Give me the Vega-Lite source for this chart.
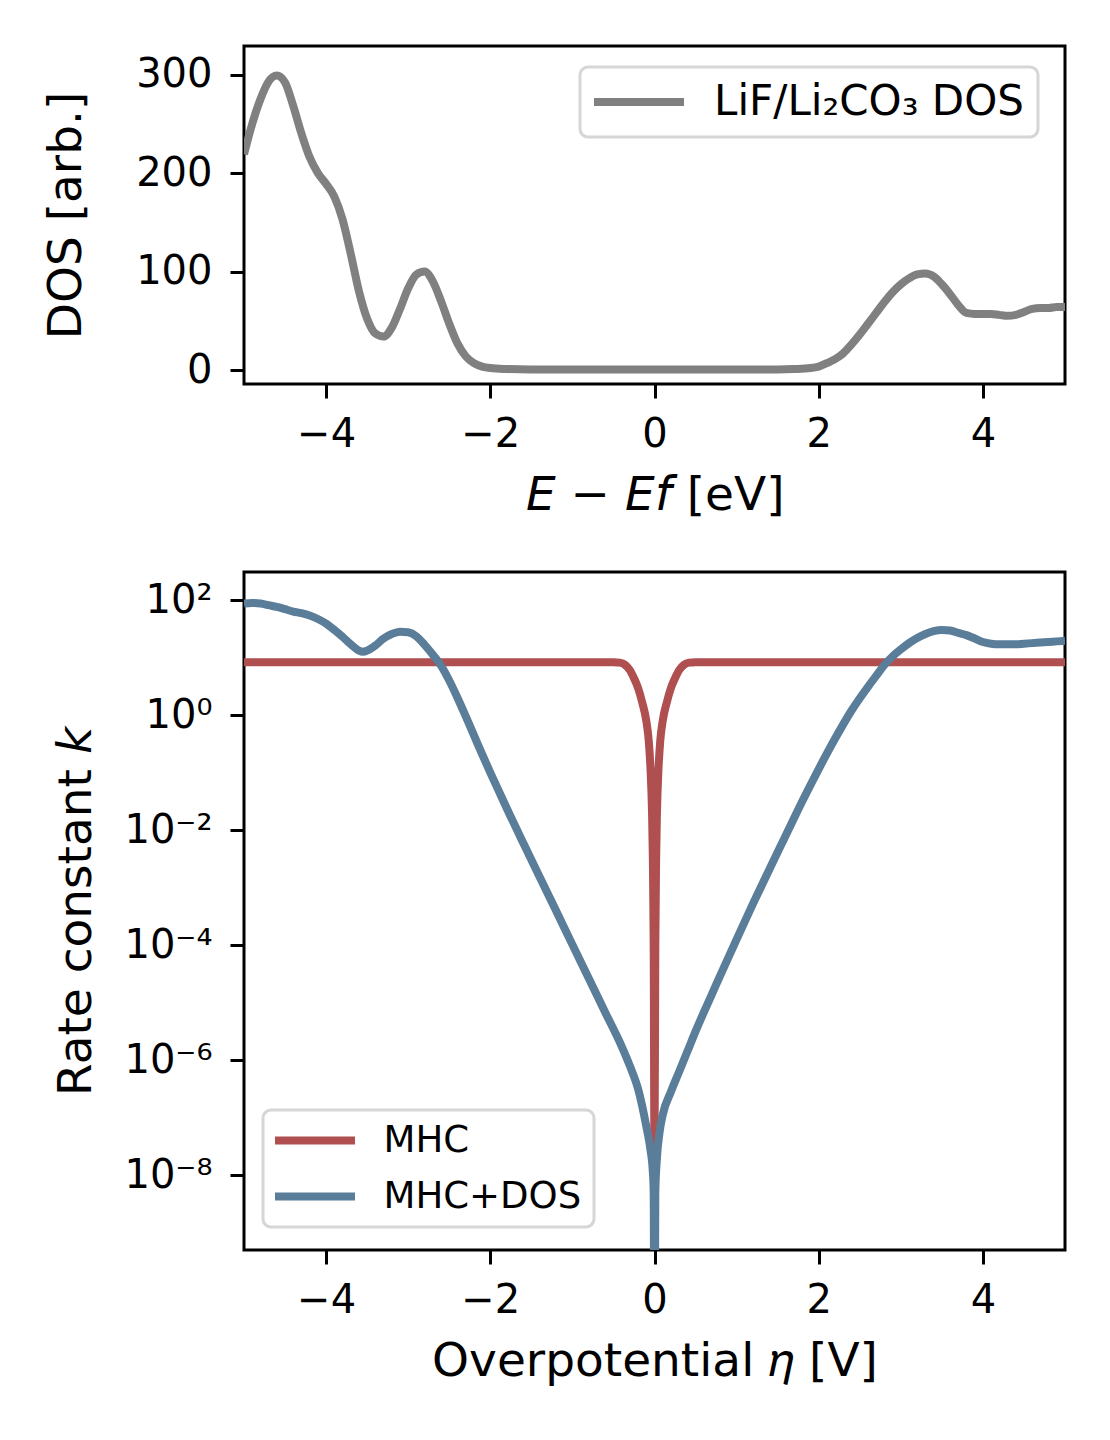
{
  "$schema": "https://vega.github.io/schema/vega-lite/v6.json",
  "background": "white",
  "padding": {"left": 40, "top": 44, "right": 30, "bottom": 10},
  "datasets": {
    "dos": [
      {"E": -5.0, "dos": 219}, {"E": -4.9, "dos": 250}, {"E": -4.8, "dos": 275}, {"E": -4.7, "dos": 293},
      {"E": -4.6, "dos": 299}, {"E": -4.5, "dos": 292}, {"E": -4.4, "dos": 268}, {"E": -4.3, "dos": 240},
      {"E": -4.2, "dos": 216}, {"E": -4.1, "dos": 200}, {"E": -4.0, "dos": 189}, {"E": -3.9, "dos": 176},
      {"E": -3.8, "dos": 153}, {"E": -3.7, "dos": 118}, {"E": -3.6, "dos": 80}, {"E": -3.5, "dos": 52},
      {"E": -3.4, "dos": 37}, {"E": -3.3, "dos": 34}, {"E": -3.2, "dos": 43}, {"E": -3.1, "dos": 62},
      {"E": -3.0, "dos": 83}, {"E": -2.9, "dos": 97}, {"E": -2.8, "dos": 100}, {"E": -2.7, "dos": 90},
      {"E": -2.6, "dos": 70}, {"E": -2.5, "dos": 47}, {"E": -2.4, "dos": 27}, {"E": -2.3, "dos": 14},
      {"E": -2.2, "dos": 7}, {"E": -2.1, "dos": 3.5}, {"E": -2.0, "dos": 2}, {"E": -1.8, "dos": 1},
      {"E": -1.5, "dos": 0.5}, {"E": -1.0, "dos": 0.5}, {"E": 0.0, "dos": 0.5}, {"E": 1.0, "dos": 0.5},
      {"E": 1.5, "dos": 0.6}, {"E": 1.7, "dos": 1}, {"E": 1.9, "dos": 2}, {"E": 2.0, "dos": 3.5},
      {"E": 2.1, "dos": 7}, {"E": 2.2, "dos": 11}, {"E": 2.3, "dos": 17}, {"E": 2.4, "dos": 26},
      {"E": 2.5, "dos": 36}, {"E": 2.6, "dos": 47}, {"E": 2.7, "dos": 58}, {"E": 2.8, "dos": 69},
      {"E": 2.9, "dos": 79}, {"E": 3.0, "dos": 87}, {"E": 3.1, "dos": 93}, {"E": 3.2, "dos": 97},
      {"E": 3.3, "dos": 98}, {"E": 3.4, "dos": 95}, {"E": 3.5, "dos": 87}, {"E": 3.6, "dos": 77},
      {"E": 3.7, "dos": 66}, {"E": 3.8, "dos": 58}, {"E": 3.9, "dos": 57}, {"E": 4.0, "dos": 57},
      {"E": 4.1, "dos": 57}, {"E": 4.2, "dos": 56}, {"E": 4.3, "dos": 55}, {"E": 4.4, "dos": 56},
      {"E": 4.5, "dos": 59}, {"E": 4.6, "dos": 62}, {"E": 4.7, "dos": 63}, {"E": 4.8, "dos": 63},
      {"E": 4.9, "dos": 64}, {"E": 5.0, "dos": 64}
    ],
    "rate": [
      {"eta": -5.0, "k": 8.32, "model": "MHC"}, {"eta": -4.0, "k": 8.32, "model": "MHC"},
      {"eta": -3.0, "k": 8.32, "model": "MHC"}, {"eta": -2.0, "k": 8.32, "model": "MHC"},
      {"eta": -1.0, "k": 8.32, "model": "MHC"}, {"eta": -0.6, "k": 8.32, "model": "MHC"},
      {"eta": -0.5, "k": 8.3, "model": "MHC"}, {"eta": -0.42, "k": 8.15, "model": "MHC"},
      {"eta": -0.36, "k": 7.5, "model": "MHC"}, {"eta": -0.3, "k": 6.03, "model": "MHC"},
      {"eta": -0.25, "k": 4.37, "model": "MHC"}, {"eta": -0.2, "k": 2.95, "model": "MHC"},
      {"eta": -0.15, "k": 1.66, "model": "MHC"}, {"eta": -0.1, "k": 0.794, "model": "MHC"},
      {"eta": -0.07, "k": 0.355, "model": "MHC"}, {"eta": -0.05, "k": 0.126, "model": "MHC"},
      {"eta": -0.03, "k": 0.02, "model": "MHC"}, {"eta": -0.02, "k": 0.00316, "model": "MHC"},
      {"eta": -0.01, "k": 0.0001, "model": "MHC"}, {"eta": 0.0, "k": 2e-8, "model": "MHC"},
      {"eta": 0.01, "k": 0.0001, "model": "MHC"}, {"eta": 0.02, "k": 0.00316, "model": "MHC"},
      {"eta": 0.03, "k": 0.02, "model": "MHC"}, {"eta": 0.05, "k": 0.126, "model": "MHC"},
      {"eta": 0.07, "k": 0.355, "model": "MHC"}, {"eta": 0.1, "k": 0.794, "model": "MHC"},
      {"eta": 0.15, "k": 1.66, "model": "MHC"}, {"eta": 0.2, "k": 2.95, "model": "MHC"},
      {"eta": 0.25, "k": 4.37, "model": "MHC"}, {"eta": 0.3, "k": 6.03, "model": "MHC"},
      {"eta": 0.36, "k": 7.5, "model": "MHC"}, {"eta": 0.42, "k": 8.15, "model": "MHC"},
      {"eta": 0.5, "k": 8.3, "model": "MHC"}, {"eta": 0.6, "k": 8.32, "model": "MHC"},
      {"eta": 1.0, "k": 8.32, "model": "MHC"}, {"eta": 2.0, "k": 8.32, "model": "MHC"},
      {"eta": 3.0, "k": 8.32, "model": "MHC"}, {"eta": 4.0, "k": 8.32, "model": "MHC"},
      {"eta": 5.0, "k": 8.32, "model": "MHC"},
      {"eta": -5.0, "k": 87.1, "model": "MHC+DOS"}, {"eta": -4.9, "k": 89.1, "model": "MHC+DOS"},
      {"eta": -4.8, "k": 87.1, "model": "MHC+DOS"}, {"eta": -4.7, "k": 81.3, "model": "MHC+DOS"},
      {"eta": -4.6, "k": 75.9, "model": "MHC+DOS"}, {"eta": -4.5, "k": 69.2, "model": "MHC+DOS"},
      {"eta": -4.4, "k": 63.1, "model": "MHC+DOS"}, {"eta": -4.3, "k": 58.9, "model": "MHC+DOS"},
      {"eta": -4.2, "k": 53.7, "model": "MHC+DOS"}, {"eta": -4.1, "k": 46.8, "model": "MHC+DOS"},
      {"eta": -4.0, "k": 38.9, "model": "MHC+DOS"}, {"eta": -3.9, "k": 30.2, "model": "MHC+DOS"},
      {"eta": -3.8, "k": 22.9, "model": "MHC+DOS"}, {"eta": -3.7, "k": 17.0, "model": "MHC+DOS"},
      {"eta": -3.6, "k": 13.2, "model": "MHC+DOS"}, {"eta": -3.55, "k": 12.6, "model": "MHC+DOS"},
      {"eta": -3.5, "k": 13.2, "model": "MHC+DOS"}, {"eta": -3.4, "k": 16.2, "model": "MHC+DOS"},
      {"eta": -3.3, "k": 21.4, "model": "MHC+DOS"}, {"eta": -3.2, "k": 25.7, "model": "MHC+DOS"},
      {"eta": -3.1, "k": 28.2, "model": "MHC+DOS"}, {"eta": -3.0, "k": 27.5, "model": "MHC+DOS"},
      {"eta": -2.9, "k": 23.4, "model": "MHC+DOS"}, {"eta": -2.8, "k": 16.6, "model": "MHC+DOS"},
      {"eta": -2.7, "k": 11.2, "model": "MHC+DOS"}, {"eta": -2.6, "k": 7.24, "model": "MHC+DOS"},
      {"eta": -2.5, "k": 3.98, "model": "MHC+DOS"}, {"eta": -2.4, "k": 2.0, "model": "MHC+DOS"},
      {"eta": -2.3, "k": 0.955, "model": "MHC+DOS"}, {"eta": -2.2, "k": 0.447, "model": "MHC+DOS"},
      {"eta": -2.1, "k": 0.209, "model": "MHC+DOS"}, {"eta": -2.0, "k": 0.1, "model": "MHC+DOS"},
      {"eta": -1.9, "k": 0.049, "model": "MHC+DOS"}, {"eta": -1.8, "k": 0.024, "model": "MHC+DOS"},
      {"eta": -1.6, "k": 0.00603, "model": "MHC+DOS"}, {"eta": -1.4, "k": 0.00155, "model": "MHC+DOS"},
      {"eta": -1.2, "k": 0.000398, "model": "MHC+DOS"}, {"eta": -1.0, "k": 0.000102, "model": "MHC+DOS"},
      {"eta": -0.8, "k": 0.0000263, "model": "MHC+DOS"}, {"eta": -0.6, "k": 0.00000676, "model": "MHC+DOS"},
      {"eta": -0.4, "k": 0.00000174, "model": "MHC+DOS"}, {"eta": -0.3, "k": 7.94e-7, "model": "MHC+DOS"},
      {"eta": -0.2, "k": 3.16e-7, "model": "MHC+DOS"}, {"eta": -0.1, "k": 7.08e-8, "model": "MHC+DOS"},
      {"eta": -0.05, "k": 2.82e-8, "model": "MHC+DOS"}, {"eta": -0.02, "k": 1.12e-8, "model": "MHC+DOS"},
      {"eta": -0.01, "k": 5.01e-9, "model": "MHC+DOS"}, {"eta": 0.0, "k": 1e-12, "model": "MHC+DOS"},
      {"eta": 0.01, "k": 5.01e-9, "model": "MHC+DOS"}, {"eta": 0.03, "k": 2.0e-8, "model": "MHC+DOS"},
      {"eta": 0.06, "k": 5.37e-8, "model": "MHC+DOS"}, {"eta": 0.1, "k": 1.12e-7, "model": "MHC+DOS"},
      {"eta": 0.2, "k": 2.82e-7, "model": "MHC+DOS"}, {"eta": 0.3, "k": 6.31e-7, "model": "MHC+DOS"},
      {"eta": 0.4, "k": 0.00000141, "model": "MHC+DOS"}, {"eta": 0.5, "k": 0.00000316, "model": "MHC+DOS"},
      {"eta": 0.6, "k": 0.00000676, "model": "MHC+DOS"}, {"eta": 0.7, "k": 0.0000141, "model": "MHC+DOS"},
      {"eta": 0.8, "k": 0.0000295, "model": "MHC+DOS"}, {"eta": 1.0, "k": 0.000126, "model": "MHC+DOS"},
      {"eta": 1.2, "k": 0.000525, "model": "MHC+DOS"}, {"eta": 1.4, "k": 0.00209, "model": "MHC+DOS"},
      {"eta": 1.6, "k": 0.00813, "model": "MHC+DOS"}, {"eta": 1.8, "k": 0.0316, "model": "MHC+DOS"},
      {"eta": 2.0, "k": 0.115, "model": "MHC+DOS"}, {"eta": 2.2, "k": 0.39, "model": "MHC+DOS"},
      {"eta": 2.4, "k": 1.2, "model": "MHC+DOS"}, {"eta": 2.6, "k": 3.1, "model": "MHC+DOS"},
      {"eta": 2.7, "k": 4.79, "model": "MHC+DOS"}, {"eta": 2.8, "k": 7.41, "model": "MHC+DOS"},
      {"eta": 2.9, "k": 10.5, "model": "MHC+DOS"}, {"eta": 3.0, "k": 13.8, "model": "MHC+DOS"},
      {"eta": 3.1, "k": 17.8, "model": "MHC+DOS"}, {"eta": 3.2, "k": 21.9, "model": "MHC+DOS"},
      {"eta": 3.3, "k": 25.7, "model": "MHC+DOS"}, {"eta": 3.4, "k": 28.8, "model": "MHC+DOS"},
      {"eta": 3.5, "k": 30.2, "model": "MHC+DOS"}, {"eta": 3.6, "k": 29.5, "model": "MHC+DOS"},
      {"eta": 3.7, "k": 26.9, "model": "MHC+DOS"}, {"eta": 3.8, "k": 24.5, "model": "MHC+DOS"},
      {"eta": 3.9, "k": 21.4, "model": "MHC+DOS"}, {"eta": 4.0, "k": 18.6, "model": "MHC+DOS"},
      {"eta": 4.1, "k": 17.4, "model": "MHC+DOS"}, {"eta": 4.2, "k": 17.0, "model": "MHC+DOS"},
      {"eta": 4.3, "k": 17.0, "model": "MHC+DOS"}, {"eta": 4.4, "k": 17.0, "model": "MHC+DOS"},
      {"eta": 4.5, "k": 17.4, "model": "MHC+DOS"}, {"eta": 4.6, "k": 17.8, "model": "MHC+DOS"},
      {"eta": 4.7, "k": 18.2, "model": "MHC+DOS"}, {"eta": 4.8, "k": 18.6, "model": "MHC+DOS"},
      {"eta": 4.9, "k": 19.1, "model": "MHC+DOS"}, {"eta": 5.0, "k": 19.5, "model": "MHC+DOS"}
    ]
  },
  "spacing": 50,
  "vconcat": [
    {
      "width": 821,
      "height": 338,
      "data": {"name": "dos"},
      "mark": {"type": "line", "strokeWidth": 8, "interpolate": "monotone", "clip": true, "strokeJoin": "round"},
      "encoding": {
        "x": {
          "field": "E", "type": "quantitative",
          "scale": {"domain": [-5, 5], "nice": false, "zero": false},
          "axis": {"values": [-4, -2, 0, 2, 4], "title": "𝘌 − 𝘌𝘧 [eV]"}
        },
        "y": {
          "field": "dos", "type": "quantitative",
          "scale": {"domain": [-14.2, 329], "nice": false, "zero": false},
          "axis": {"values": [0, 100, 200, 300], "title": "DOS [arb.]", "titleX": -164}
        },
        "color": {
          "datum": "LiF/Li₂CO₃ DOS",
          "scale": {"domain": ["LiF/Li₂CO₃ DOS"], "range": ["#808080"]},
          "legend": {
            "title": null, "orient": "none", "legendX": 336, "legendY": 21,
            "labelFontSize": 42, "labelLimit": 1000,
            "symbolType": "M-4.5,0H4.5", "symbolSize": 400, "symbolOffset": 24,
            "padding": 14, "labelOffset": 54
          }
        }
      }
    },
    {
      "width": 821,
      "height": 678,
      "data": {"name": "rate"},
      "mark": {"type": "line", "strokeWidth": 8, "interpolate": "monotone", "clip": true, "strokeJoin": "round"},
      "encoding": {
        "x": {
          "field": "eta", "type": "quantitative",
          "scale": {"domain": [-5, 5], "nice": false, "zero": false},
          "axis": {"values": [-4, -2, 0, 2, 4], "title": "Overpotential 𝜂 [V]"}
        },
        "y": {
          "field": "k", "type": "quantitative",
          "scale": {"type": "log", "domain": [5e-10, 307], "nice": false},
          "axis": {
            "values": [1e-8, 1e-6, 0.0001, 0.01, 1, 100],
            "labelExpr": "datum.value > 10 ? '10²' : datum.value > 0.1 ? '10⁰' : datum.value > 0.001 ? '10⁻²' : datum.value > 0.00001 ? '10⁻⁴' : datum.value > 0.0000001 ? '10⁻⁶' : '10⁻⁸'",
            "title": "Rate constant 𝘬", "titleX": -154
          }
        },
        "color": {
          "field": "model", "type": "nominal",
          "scale": {"domain": ["MHC", "MHC+DOS"], "range": ["#b04f4f", "#5a7d9a"]},
          "legend": {
            "title": null, "orient": "none", "legendX": 19, "legendY": 538,
            "labelFontSize": 37, "labelLimit": 1000,
            "symbolType": "M-4,0H4", "symbolSize": 400, "symbolOffset": 21.5,
            "padding": 12, "labelOffset": 50, "rowPadding": 18
          }
        }
      }
    }
  ],
  "resolve": {
    "scale": {"x": "independent", "y": "independent", "color": "independent"},
    "axis": {"x": "independent", "y": "independent"},
    "legend": {"color": "independent"}
  },
  "config": {
    "font": "DejaVu Sans",
    "view": {"stroke": "black", "strokeWidth": 3},
    "axis": {
      "domain": false, "grid": false, "ticks": true,
      "tickColor": "black", "tickWidth": 3, "tickSize": 14,
      "labelFont": "DejaVu Sans", "labelFontSize": 40, "labelColor": "black",
      "labelOverlap": false, "labelFlush": false, "labelBound": false,
      "titleFont": "DejaVu Sans", "titleFontSize": 47, "titleFontWeight": "normal", "titleColor": "black"
    },
    "axisX": {"labelBaseline": "alphabetic", "labelPadding": 48, "titleBaseline": "alphabetic", "titleY": 125},
    "axisY": {"labelPadding": 18, "labelBaseline": "middle", "titleBaseline": "alphabetic"},
    "legend": {
      "symbolStrokeWidth": 8, "labelFont": "DejaVu Sans", "labelColor": "black",
      "strokeColor": "#d6d6d6", "strokeWidth": 3, "cornerRadius": 8, "fillColor": "white"
    }
  }
}
